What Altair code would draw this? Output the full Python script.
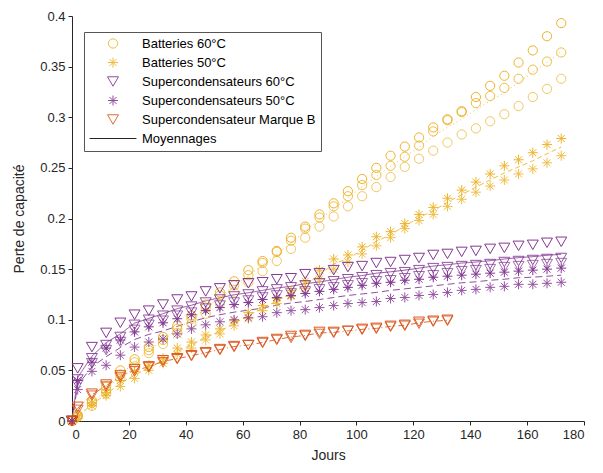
import altair as alt
import pandas as pd

# ---------------- data ----------------
days = [0, 2, 7, 12, 17, 22, 27, 32, 37, 42, 47, 52, 57, 62, 67, 72, 77, 82,
        87, 92, 97, 102, 107, 112, 117, 122, 127, 132, 137, 142, 147, 152,
        157, 162, 167, 172]
days_b = [0, 2, 7, 12, 17, 22, 27, 32, 37, 42, 47, 52, 57, 62, 67, 72, 77,
          82, 87, 92, 97, 102, 107, 112, 117, 122, 127, 132]

bat60_1 = [0, 0.006, 0.020, 0.034, 0.050, 0.061, 0.073, 0.083, 0.094, 0.104,
           0.115, 0.127, 0.138, 0.149, 0.158, 0.168, 0.181, 0.192, 0.204,
           0.215, 0.227, 0.239, 0.250, 0.262, 0.271, 0.280, 0.290, 0.298,
           0.306, 0.320, 0.331, 0.341, 0.354, 0.366, 0.380, 0.393]
bat60_2 = [0, 0.005, 0.018, 0.030, 0.046, 0.058, 0.070, 0.080, 0.091, 0.101,
           0.112, 0.124, 0.134, 0.144, 0.156, 0.167, 0.178, 0.190, 0.201,
           0.212, 0.222, 0.233, 0.243, 0.252, 0.261, 0.272, 0.286, 0.297,
           0.305, 0.314, 0.321, 0.329, 0.338, 0.347, 0.355, 0.364]
bat60_3 = [0, 0.004, 0.015, 0.027, 0.042, 0.054, 0.067, 0.076, 0.087, 0.096,
           0.106, 0.116, 0.127, 0.137, 0.148, 0.158, 0.170, 0.181, 0.192,
           0.202, 0.212, 0.222, 0.231, 0.241, 0.251, 0.259, 0.267, 0.275,
           0.283, 0.289, 0.296, 0.303, 0.311, 0.320, 0.328, 0.338]

bat50_1 = [0, 0.005, 0.018, 0.028, 0.040, 0.049, 0.055, 0.062, 0.072, 0.078,
           0.085, 0.091, 0.099, 0.107, 0.114, 0.121, 0.129, 0.138, 0.149,
           0.160, 0.164, 0.172, 0.182, 0.187, 0.195, 0.204, 0.211, 0.220,
           0.228, 0.236, 0.244, 0.252, 0.258, 0.265, 0.273, 0.279]
bat50_2 = [0, 0.003, 0.015, 0.025, 0.034, 0.042, 0.050, 0.057, 0.066, 0.072,
           0.080, 0.086, 0.094, 0.101, 0.109, 0.116, 0.123, 0.131, 0.140,
           0.150, 0.157, 0.165, 0.173, 0.181, 0.190, 0.198, 0.204, 0.212,
           0.219, 0.226, 0.232, 0.238, 0.244, 0.249, 0.255, 0.262]

sc60_1 = [0, 0.052, 0.073, 0.087, 0.097, 0.105, 0.109, 0.115, 0.120, 0.123,
          0.128, 0.131, 0.134, 0.136, 0.137, 0.140, 0.141, 0.145, 0.146,
          0.149, 0.152, 0.153, 0.156, 0.157, 0.159, 0.161, 0.164, 0.165,
          0.167, 0.168, 0.170, 0.171, 0.173, 0.174, 0.176, 0.177]
sc60_2 = [0, 0.041, 0.062, 0.075, 0.083, 0.095, 0.100, 0.104, 0.109, 0.113,
          0.117, 0.120, 0.123, 0.125, 0.128, 0.130, 0.132, 0.134, 0.136,
          0.138, 0.140, 0.142, 0.144, 0.146, 0.147, 0.149, 0.151, 0.152,
          0.153, 0.154, 0.155, 0.157, 0.158, 0.159, 0.160, 0.161]
sc60_3 = [0, 0.036, 0.057, 0.070, 0.078, 0.090, 0.095, 0.099, 0.104, 0.107,
          0.111, 0.114, 0.117, 0.119, 0.122, 0.124, 0.126, 0.128, 0.130,
          0.132, 0.134, 0.136, 0.138, 0.139, 0.141, 0.143, 0.144, 0.146,
          0.148, 0.149, 0.150, 0.152, 0.153, 0.154, 0.155, 0.156]

sc50_1 = [0, 0.040, 0.058, 0.072, 0.080, 0.088, 0.093, 0.097, 0.101, 0.105,
          0.109, 0.112, 0.115, 0.117, 0.120, 0.122, 0.124, 0.126, 0.128,
          0.130, 0.132, 0.134, 0.136, 0.137, 0.139, 0.140, 0.142, 0.143,
          0.144, 0.145, 0.146, 0.147, 0.148, 0.149, 0.150, 0.151]
sc50_2 = [0, 0.031, 0.049, 0.055, 0.065, 0.073, 0.078, 0.081, 0.086, 0.091,
          0.095, 0.098, 0.100, 0.102, 0.103, 0.107, 0.109, 0.110, 0.112,
          0.114, 0.116, 0.117, 0.118, 0.121, 0.122, 0.124, 0.125, 0.127,
          0.129, 0.130, 0.132, 0.133, 0.135, 0.135, 0.136, 0.137]

mb_1 = [0, 0.014, 0.027, 0.036, 0.045, 0.051, 0.054, 0.060, 0.062, 0.065,
        0.068, 0.071, 0.074, 0.075, 0.078, 0.081, 0.084, 0.085, 0.088, 0.088,
        0.089, 0.091, 0.092, 0.094, 0.095, 0.098, 0.099, 0.100]
mb_2 = [0, 0.011, 0.025, 0.034, 0.043, 0.049, 0.053, 0.058, 0.061, 0.064,
        0.067, 0.070, 0.073, 0.075, 0.077, 0.080, 0.082, 0.084, 0.086, 0.087,
        0.089, 0.090, 0.091, 0.093, 0.094, 0.096, 0.098, 0.099]

groups = ["Batteries 60°C", "Batteries 50°C", "Supercondensateurs 60°C",
          "Supercondensateurs 50°C", "Supercondensateur Marque B", "Moyennages"]

series = [
    (groups[0], "1", days, bat60_1), (groups[0], "2", days, bat60_2),
    (groups[0], "3", days, bat60_3),
    (groups[1], "1", days, bat50_1), (groups[1], "2", days, bat50_2),
    (groups[2], "1", days, sc60_1), (groups[2], "2", days, sc60_2),
    (groups[2], "3", days, sc60_3),
    (groups[3], "1", days, sc50_1), (groups[3], "2", days, sc50_2),
    (groups[4], "1", days_b, mb_1), (groups[4], "2", days_b, mb_2),
]

rows = []
for g, s, xs, ys in series:
    for x, y in zip(xs, ys):
        rows.append({"jour": x, "perte": y, "groupe": g, "ech": s})
df = pd.DataFrame(rows)

# ---------------- styling ----------------
AST = "M-1,0L1,0M0,-1L0,1M-0.7,-0.7L0.7,0.7M-0.7,0.7L0.7,-0.7"
color_scale = alt.Scale(domain=groups, range=["#EDB120", "#EDB120", "#7E2F8E",
                                               "#7E2F8E", "#D95319", "#000000"])
shape_scale = alt.Scale(domain=groups, range=["circle", AST, "triangle-down",
                                               AST, "triangle-down", "stroke"])
size_scale = alt.Scale(type="ordinal", domain=groups,
                       range=[85, 100, 120, 100, 120, 2200])
dash_scale = alt.Scale(domain=groups[:5],
                       range=[[1, 3], [5, 3], [1, 0], [7, 4], [6, 3, 1, 3]])

legend = alt.Legend(title=None, orient="none", legendX=12, legendY=16,
                    fillColor="white", strokeColor="#555555", padding=5,
                    labelFont="Liberation Sans", labelFontSize=13,
                    labelColor="#000000", clipHeight=13, rowPadding=5,
                    labelOffset=5, labelLimit=400, symbolStrokeWidth=1)

x_enc = alt.X("jour:Q", scale=alt.Scale(domain=[0, 180], nice=False),
              axis=alt.Axis(title="Jours", values=list(range(0, 181, 20)),
                            titlePadding=7))
y_enc = alt.Y("perte:Q", scale=alt.Scale(domain=[0, 0.4], nice=False),
              axis=alt.Axis(title="Perte de capacité", format="~g",
                            values=[0, 0.05, 0.1, 0.15, 0.2, 0.25, 0.3, 0.35, 0.4],
                            titlePadding=13))

points = alt.Chart(df).mark_point(filled=False, strokeWidth=1).encode(
    x=x_enc,
    y=y_enc,
    color=alt.Color("groupe:N", scale=color_scale, legend=legend),
    shape=alt.Shape("groupe:N", scale=shape_scale, legend=legend),
    size=alt.Size("groupe:N", scale=size_scale, legend=legend),
    opacity=alt.Opacity("ech:N", scale=alt.Scale(domain=["1", "2", "3"],
                                                 range=[0.95, 0.7, 0.5]),
                        legend=None),
)

lines = alt.Chart(df).mark_line(strokeWidth=1, opacity=0.85).encode(
    x=x_enc,
    y=alt.Y("mean(perte):Q", scale=alt.Scale(domain=[0, 0.4], nice=False)),
    color=alt.Color("groupe:N", scale=color_scale, legend=legend),
    strokeDash=alt.StrokeDash("groupe:N", scale=dash_scale, legend=None),
)

chart = alt.layer(lines, points).properties(
    width=512, height=405,
    autosize=alt.AutoSizeParams(type="none"),
    padding={"left": 64, "top": 8, "right": 11, "bottom": 44},
).configure_view(stroke=None).configure_axis(
    domainColor="#262626", tickColor="#262626", labelColor="#262626",
    titleColor="#262626", labelFont="Liberation Sans",
    titleFont="Liberation Sans", labelFontSize=13, titleFontSize=14,
    titleFontWeight="normal", grid=False, tickSize=4, labelPadding=3,
)

chart.save("out.html", embed_options={"renderer": "svg", "actions": False})
